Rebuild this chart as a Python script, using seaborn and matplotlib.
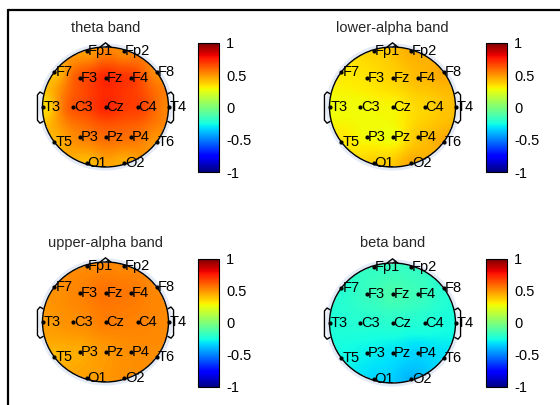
import numpy as np
import matplotlib
matplotlib.use("Agg")
import matplotlib.pyplot as plt
import seaborn as sns
from matplotlib.lines import Line2D
from matplotlib.patches import Ellipse

# electrode names (10-20 system) and per-band values
channels = ["Fp1", "Fp2", "F7", "F3", "Fz", "F4", "F8", "T3", "C3", "Cz",
            "C4", "T4", "T5", "P3", "Pz", "P4", "T6", "O1", "O2"]
theta = [0.40, 0.45, 0.30, 0.72, 0.85, 0.78, 0.45, 0.22, 0.72, 0.85,
         0.75, 0.50, 0.38, 0.55, 0.62, 0.60, 0.45, 0.35, 0.38]
lower_alpha = [0.38, 0.48, 0.32, 0.33, 0.38, 0.45, 0.50, 0.25, 0.25, 0.25,
               0.35, 0.42, 0.35, 0.25, 0.18, 0.42, 0.50, 0.42, 0.52]
upper_alpha = [0.52, 0.52, 0.50, 0.55, 0.62, 0.58, 0.52, 0.48, 0.52, 0.58,
               0.55, 0.52, 0.40, 0.42, 0.48, 0.52, 0.52, 0.48, 0.52]
beta = [-0.18, -0.18, -0.22, -0.15, -0.05, -0.12, -0.22, -0.22, -0.20, -0.18,
        -0.20, -0.25, -0.25, -0.28, -0.32, -0.38, -0.32, -0.35, -0.45]
band_titles = ["theta band", "lower-alpha band", "upper-alpha band", "beta band"]
cbar_ticks = [-1, -0.5, 0, 0.5, 1]
cbar_ticklabels = ["-1", "-0.5", "0", "0.5", "1"]

# montage: normalized head coordinates (head radius = 1)
pos_x = np.array([-0.30, 0.30, -0.81, -0.40, 0.00, 0.40, 0.81, -1.00, -0.51, 0.00,
                  0.51, 1.00, -0.81, -0.40, 0.00, 0.40, 0.81, -0.30, 0.30])
pos_y = np.array([0.93, 0.93, 0.58, 0.48, 0.48, 0.48, 0.58, 0.00, 0.00, 0.00,
                  0.00, 0.00, -0.58, -0.50, -0.50, -0.50, -0.58, -0.93, -0.93])

sns.set_style("white")
plt.rcParams["font.family"] = ["Liberation Sans", "DejaVu Sans"]
plt.rcParams["axes.unicode_minus"] = False

W, H = 560, 405
fig = plt.figure(figsize=(W / 100, H / 100), dpi=100)

L = 1.15
N = 140
g = np.linspace(-L, L, N)
gx, gy = np.meshgrid(g, g[::-1])
outside = np.hypot(gx, gy) > 1.0


def to_cell(x, y):
    return (np.asarray(x) + L) / (2 * L) * N, (L - np.asarray(y)) / (2 * L) * N


def topo_grid(vals):
    vals = np.asarray(vals)
    d2 = (gx[..., None] - pos_x) ** 2 + (gy[..., None] - pos_y) ** 2
    w = 1.0 / (d2 + 0.06) ** 1.3
    return (w * vals).sum(-1) / w.sum(-1)


def px_axes(left, top, width, height):
    return fig.add_axes([left / W, 1 - (top + height) / H, width / W, height / H])


# head centres and colorbar boxes in pixels
centers = [(105.5, 107), (392.5, 107), (105.5, 322), (392.5, 323)]
title_y = [28, 28, 243, 243]
cbars = [(198, 43, 21, 129), (486, 43, 21, 129), (198, 259, 21, 128), (486, 259, 21, 128)]
rx, ry = 63, 60

for i, vals in enumerate([theta, lower_alpha, upper_alpha, beta]):
    cx, cy = centers[i]
    aw, ah = 2 * L * rx, 2 * L * ry
    ax = px_axes(cx - aw / 2, cy - ah / 2, aw, ah)
    cax = px_axes(*cbars[i])

    sns.heatmap(topo_grid(vals), mask=outside, cmap="jet", vmin=-1, vmax=1,
                ax=ax, cbar_ax=cax, xticklabels=False, yticklabels=False,
                cbar_kws={"ticks": cbar_ticks})
    ax.patch.set_visible(False)

    # faint halo + head outline, nose and ears
    c0, r0 = to_cell(0, 0)
    ax.add_patch(Ellipse((c0, r0), 2.12 * N / (2 * L), 2.12 * N / (2 * L),
                         facecolor="#e4ebf7", edgecolor="none", zorder=0.5))
    ax.add_patch(Ellipse((c0, r0), N / L, N / L, facecolor="none",
                         edgecolor="black", lw=1.0, zorder=3))
    nx, ny = to_cell([-0.09, 0.0, 0.09], [0.995, 1.07, 0.995])
    ax.plot(nx, ny, color="black", lw=1.0, zorder=3, clip_on=False)
    for s in (-1, 1):
        ex = s * np.array([0.99, 1.04, 1.08, 1.08, 1.04, 0.99])
        ey = np.array([0.22, 0.25, 0.20, -0.22, -0.27, -0.24])
        ex, ey = to_cell(ex, ey)
        ax.plot(ex, ey, color="black", lw=1.0, zorder=3, clip_on=False)

    # electrodes
    ccol, crow = to_cell(pos_x, pos_y)
    ax.plot(ccol, crow, "o", color="black", ms=2, zorder=4, clip_on=False)
    for name, c, r in zip(channels, ccol, crow):
        ax.text(c + 0.8, r, name, ha="left", va="center", fontsize=10.5,
                color="black", zorder=5, clip_on=False)

    fig.text(cx / W, 1 - title_y[i] / H, band_titles[i],
             ha="center", va="center", fontsize=10.5)

    cb = ax.collections[0].colorbar
    cb.outline.set_visible(True)
    cb.outline.set_linewidth(0.8)
    cb.outline.set_edgecolor("black")
    cax.set_yticklabels(cbar_ticklabels)
    cax.tick_params(axis="y", direction="in", length=3, width=0.6,
                    labelsize=10.5, pad=5, colors="black")

# screenshot frame
fig.add_artist(Line2D([8 / W, 8 / W], [0, 1 - 10 / H], color="black", lw=1.6))
fig.add_artist(Line2D([8 / W, 1], [1 - 10 / H, 1 - 10 / H], color="black", lw=1.6))

fig.savefig("out.png", dpi=100)
